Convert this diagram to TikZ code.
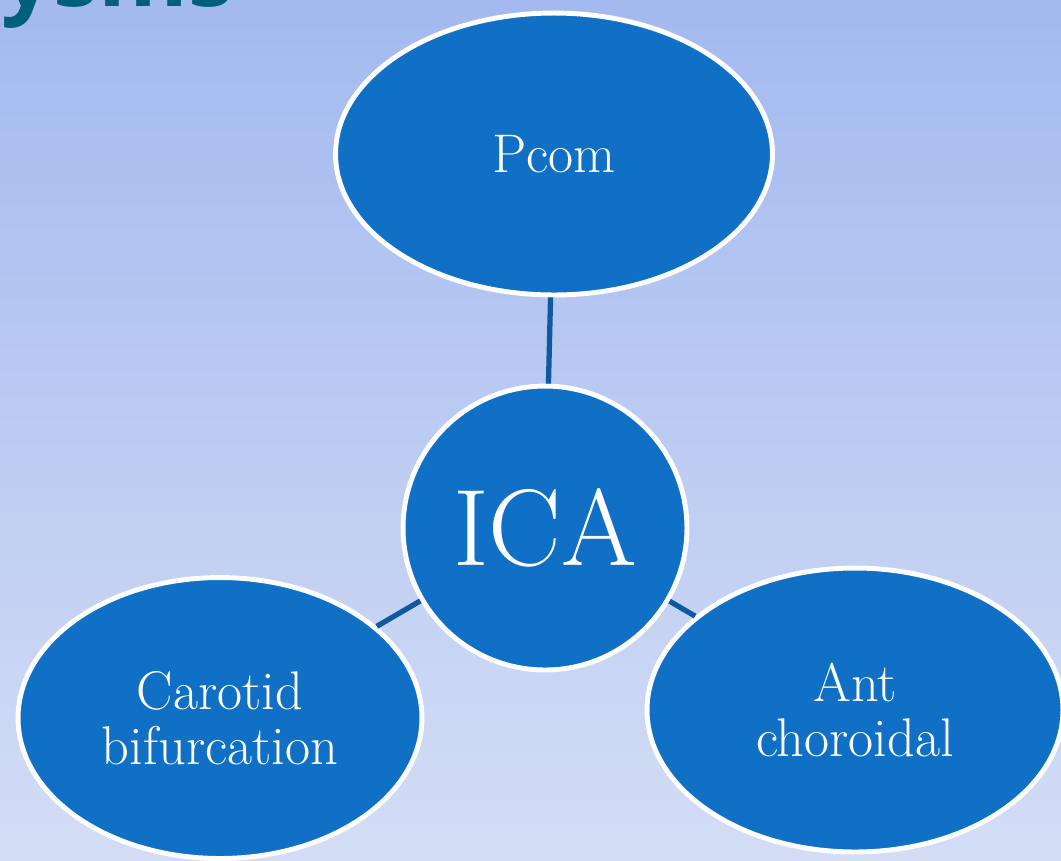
\documentclass[tikz,border=0pt]{standalone}
\usepackage{fontspec}
\newfontfamily\titlefont{Open Sans}
\usetikzlibrary{shapes.geometric}
\definecolor{bgtop}{RGB}{163,185,239}
\definecolor{bgbot}{RGB}{212,221,245}
\definecolor{blobfill}{RGB}{16,112,198}
\definecolor{linkblue}{RGB}{14,90,160}
\definecolor{titleteal}{RGB}{0,95,122}
\begin{document}
\begin{tikzpicture}[x=0.02cm,y=-0.02cm,
    blob/.style={ellipse,draw=white,line width=2.8pt,fill=blobfill,text=white,
      inner sep=0pt,align=center,font=\fontsize{31}{31}\selectfont},
    link/.style={draw=linkblue,line width=3pt}]
  \shade [top color=bgtop,bottom color=bgbot] (0,0) rectangle (1061,860);
  \useasboundingbox (0,0) rectangle (1061,860);
  \begin{scope}
    \clip (0,0) rectangle (1061,860);
    \node [anchor=base east,inner sep=0pt,text=titleteal,
      font=\titlefont\bfseries\fontsize{52}{60}\selectfont] (title) at (234,6) {ysms};
    \node [blob,minimum width=8.74cm,minimum height=5.64cm] (pcom) at (554,154) {Pcom};
    \node [blob,circle,minimum size=5.68cm,font=\fontsize{62}{70}\selectfont] (ica) at (545,528) {ICA};
    \node [blob,minimum width=8.08cm,minimum height=5.62cm] (carotid) at (220,718) {Carotid\\bifurcation};
    \node [blob,minimum width=8.32cm,minimum height=5.68cm] (antchor) at (855,710) {Ant\\choroidal};
    \draw [link] (pcom) -- (ica);
    \draw [link] (ica) -- (carotid);
    \draw [link] (ica) -- (antchor);
  \end{scope}
\end{tikzpicture}
\end{document}
